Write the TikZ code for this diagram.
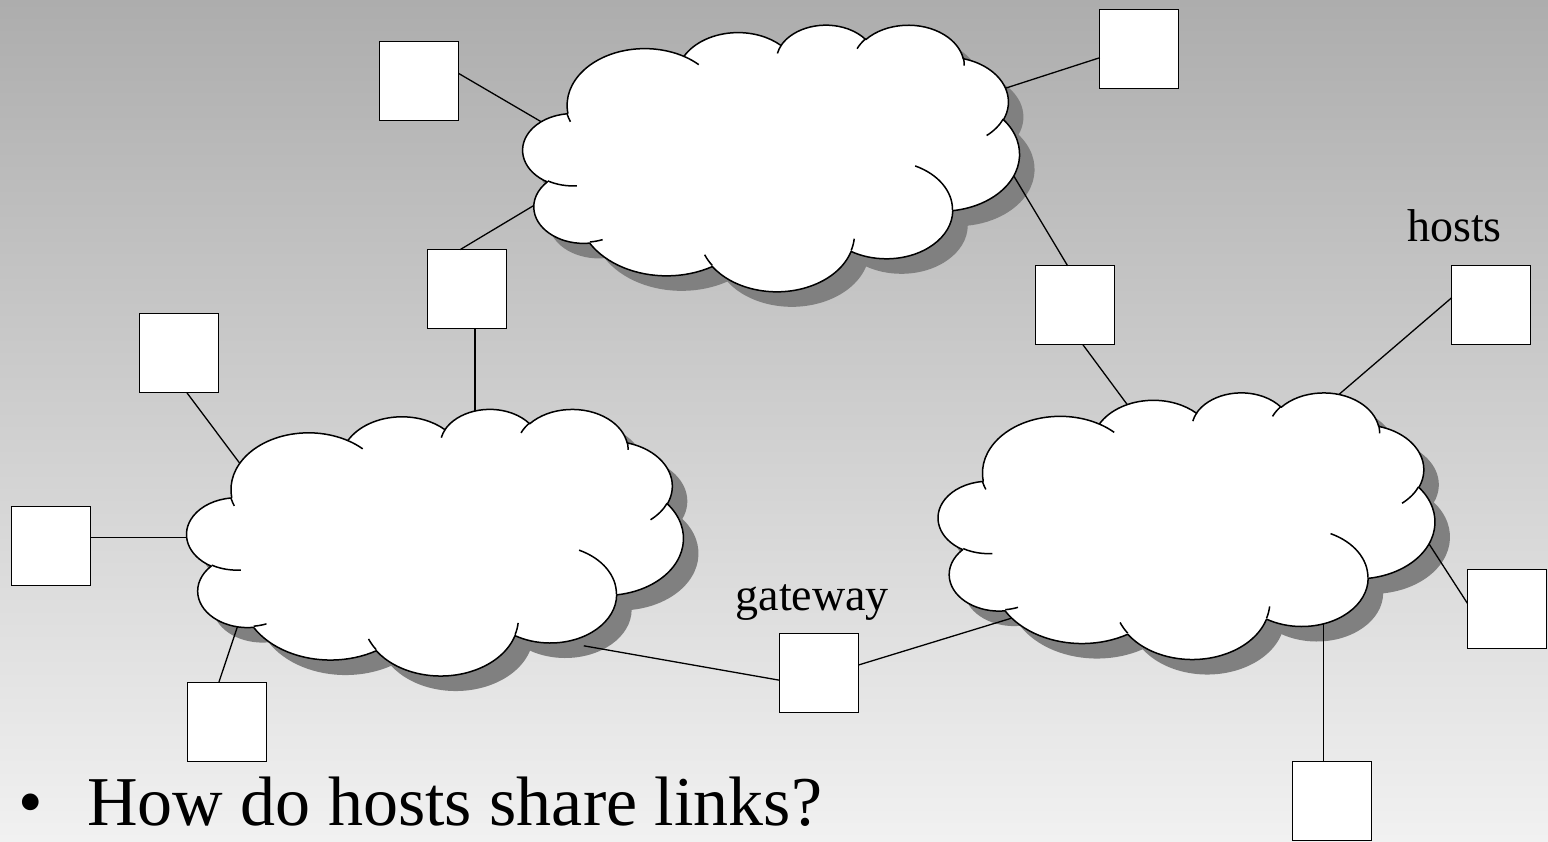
\documentclass[tikz,border=0pt]{standalone}
\usepackage{fontspec}
\setmainfont{Liberation Serif}
\definecolor{bgtop}{RGB}{173,173,173}
\definecolor{bgbot}{RGB}{241,241,241}
\definecolor{shadowgray}{RGB}{128,128,128}

% arc in DrawingML convention (visual angles, y down), appended to a path macro
\newcommand\ooarc[5]{%
  \pgfmathsetmacro\oos{atan2((#2)*sin(#4),(#3)*cos(#4))}%
  \pgfmathsetmacro\ooe{atan2((#2)*sin((#4)+(#5)),(#3)*cos((#4)+(#5)))}%
  \pgfmathsetmacro\ooe{\ooe+360*(((#5)>0)*(\ooe<\oos)-((#5)<0)*(\ooe>\oos))}%
  \pgfmathsetmacro\oos{0-(\oos)}%
  \pgfmathsetmacro\ooe{0-(\ooe)}%
  \xdef#1{#1 arc[start angle=\oos, end angle=\ooe, x radius=#2pt, y radius=#3pt]}%
}
\def\cloudpath{}
\ooarc\cloudpath{6.753}{9.190}{-190.4875}{123.7805}
\ooarc\cloudpath{5.333}{7.267}{-144.1024}{89.9452}
\ooarc\cloudpath{4.365}{5.945}{-145.8079}{99.7230}
\ooarc\cloudpath{4.857}{6.595}{-130.9861}{117.2417}
\ooarc\cloudpath{5.333}{7.273}{-78.7089}{109.0269}
\ooarc\cloudpath{6.775}{9.220}{-46.2673}{130.2690}
\ooarc\cloudpath{5.785}{7.867}{0.6250}{114.0333}
\ooarc\cloudpath{6.752}{9.215}{22.4516}{115.1726}
\ooarc\cloudpath{7.720}{10.543}{66.2426}{75.7110}
\ooarc\cloudpath{4.360}{5.918}{-274.9421}{146.7356}
\ooarc\cloudpath{4.345}{5.945}{-246.8285}{152.5189}

\def\cloudinner{}
\newcommand\ooinner[6]{\xdef\cloudinner{\cloudinner (#1,#2)}\ooarc\cloudinner{#3}{#4}{#5}{#6}}
\ooinner{4.693}{26.177}{4.345}{5.945}{86.7420}{26.4295}
\ooinner{6.928}{34.899}{4.360}{5.918}{73.6105}{11.4475}
\ooinner{16.478}{39.090}{6.752}{9.215}{137.6242}{14.0811}
\ooinner{28.827}{34.751}{6.752}{9.215}{6.4533}{15.9984}
\ooinner{34.129}{22.954}{5.785}{7.867}{-70.2924}{70.9174}
\ooinner{41.798}{15.354}{5.333}{7.273}{30.3180}{27.7515}
\ooinner{38.324}{5.426}{4.857}{6.595}{-13.7443}{14.8589}
\ooinner{29.078}{3.952}{4.857}{6.595}{-149.1815}{18.1954}
\ooinner{22.141}{4.720}{4.365}{5.945}{-163.4943}{17.6864}
\ooinner{14.000}{5.192}{6.753}{9.190}{-66.7070}{12.3194}
\ooinner{4.127}{15.789}{6.753}{9.190}{151.8351}{9.9882}

\tikzset{
  cloudline/.style={draw=black, line width=1.5pt, line join=round},
  hostbox/.style={draw=black, line width=1.3pt, fill=white, minimum size=79pt, inner sep=0pt, outer sep=0pt},
  link/.style={draw=black, line width=1.3pt},
  lbl/.style={inner sep=0pt, anchor=base west, font=\fontsize{46}{50}\selectfont},
  bigtext/.style={inner sep=0pt, anchor=base west, text depth=0pt, font=\fontsize{70}{78}\selectfont},
}

\newcommand\cloudshadow[2]{%
  \begin{scope}[shift={(#1+15,#2+15)}, xscale=11.49, yscale=6.17]
    \edef\cloudtmp{\noexpand\fill[shadowgray] (3.9,14.37) \cloudpath -- cycle;}\cloudtmp
  \end{scope}}
\newcommand\cloudbody[2]{%
  \begin{scope}[shift={(#1,#2)}, xscale=11.49, yscale=6.17]
    \edef\cloudtmp{\noexpand\path[fill=white, cloudline] (3.9,14.37) \cloudpath -- cycle;}\cloudtmp
    \edef\cloudtmp{\noexpand\path[cloudline] \cloudinner;}\cloudtmp
  \end{scope}}

\begin{document}
\begin{tikzpicture}[x=1pt,y=-1pt]
\useasboundingbox (0,0) rectangle (1548,841);
\shade[top color=bgtop, bottom color=bgbot] (0,0) rectangle (1548,841);

% shadows
\cloudshadow{523}{24.3}
\cloudshadow{186.9}{408.5}
\cloudshadow{938.4}{392}

% hosts
\node[hostbox] (h1) at (419.3,81.2) {};
\node[hostbox] (h2) at (1139.3,49.3) {};
\node[hostbox] (h3) at (467.3,289) {};
\node[hostbox] (h4) at (179.3,353.3) {};
\node[hostbox] (h5) at (1075.3,305.3) {};
\node[hostbox] (h6) at (1491.3,305.3) {};
\node[hostbox] (h7) at (51,545.7) {};
\node[hostbox] (h8) at (227.3,721.7) {};
\node[hostbox] (gw) at (819.3,673.3) {};
\node[hostbox] (h10) at (1507,609) {};
\node[hostbox] (h11) at (1332,801) {};

% attachment points inside the clouds
\coordinate (c1) at (557,131);
\coordinate (c2) at (986,94.5);
\coordinate (c3a) at (557,191.6);
\coordinate (c3b) at (475,425);
\coordinate (c4) at (247,473);
\coordinate (c7) at (205,537.3);
\coordinate (c8) at (240,619);
\coordinate (cg1) at (583.8,645.8);
\coordinate (cg2) at (1030,612.5);
\coordinate (c5a) at (1009,168);
\coordinate (c5b) at (1142,424.5);
\coordinate (c6) at (1325,406.4);
\coordinate (c10) at (1423,534.6);
\coordinate (c11) at (1323.3,615);

\draw[link] (h1.11) -- (c1);
\draw[link] (h2.192) -- (c2);
\draw[link] (h3.100) -- (c3a);
\draw[link] (h3.south -| c3b) -- (c3b);
\draw[link] (h4.281) -- (c4);
\draw[link] (h7.east |- c7) -- (c7);
\draw[link] (h8.102) -- (c8);
\draw[link] (gw.190) -- (cg1);
\draw[link] (gw.12) -- (cg2);
\draw[link] (h5.101) -- (c5a);
\draw[link] (h5.281) -- (c5b);
\draw[link] (h6.169) -- (c6);
\draw[link] (h10.172) -- (c10);
\draw[link] (h11.north -| c11) -- (c11);

% clouds
\cloudbody{523}{24.3}
\cloudbody{186.9}{408.5}
\cloudbody{938.4}{392}

% labels
\node[lbl] (hostslabel) at (1407,241.7) {hosts};
\node[lbl] (gwlabel) at (735.5,610) {gateway};
\node[bigtext] (bullet) at (18,825) {•};
\node[bigtext] (question) at (87,825) {How do hosts share links?};
\end{tikzpicture}
\end{document}
